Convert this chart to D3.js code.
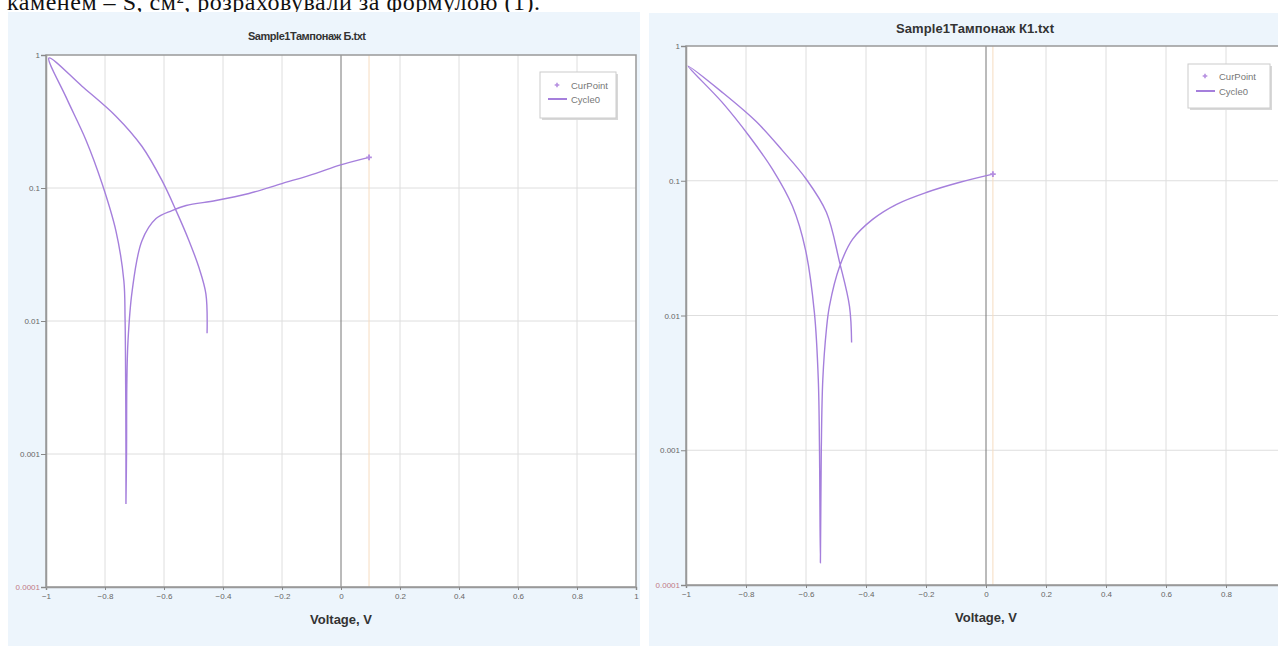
<!DOCTYPE html>
<html>
<head>
<meta charset="utf-8">
<script src="https://cdn.jsdelivr.net/npm/d3@7"></script>
<style>
  body { margin: 0; background: #fff; }
  svg { display: block; overflow: hidden; }
  .tick text { font-family: "Liberation Sans Narrow", "Liberation Sans", Arial, sans-serif; font-size: 8px; fill: #666; }
</style>
</head>
<body>
<svg id="chart" width="1278" height="646"></svg>
<script>
// tick values / labels shared by both charts
var xTicks = [-1, -0.8, -0.6, -0.4, -0.2, 0, 0.2, 0.4, 0.6, 0.8, 1];
var yTicks = [1, 0.1, 0.01, 0.001, 0.0001];
var yTickLabels = ["1", "0.1", "0.01", "0.001", "0.0001"];

// chart "Б": voltage (V) and current, in sweep order
var voltsB = [-0.454, -0.458, -0.481, -0.515, -0.559, -0.607, -0.675, -0.763, -0.878, -0.99,
  -0.932, -0.864, -0.810, -0.763, -0.736, -0.732, -0.730, -0.729, -0.729,
  -0.727, -0.726, -0.722, -0.708, -0.675, -0.627, -0.573, -0.525, -0.424, -0.312, -0.2, -0.085, -0.007, 0.095];
var currentB = [0.0081, 0.016, 0.025, 0.040, 0.0676, 0.114, 0.206, 0.347, 0.583, 0.95,
  0.482, 0.228, 0.108, 0.0476, 0.020, 0.0105, 0.00335, 0.00104, 0.00042,
  0.00104, 0.0033, 0.0071, 0.0168, 0.040, 0.0589, 0.0676, 0.0738, 0.0805, 0.091, 0.108, 0.129, 0.148, 0.17];

// chart "К1"
var voltsK1 = [-0.448, -0.455, -0.488, -0.532, -0.599, -0.679, -0.766, -0.880, -0.993,
  -0.880, -0.789, -0.712, -0.645, -0.602, -0.572, -0.559, -0.555, -0.552,
  -0.549, -0.544, -0.532, -0.522, -0.488, -0.445, -0.378, -0.298, -0.197, -0.087, 0.023];
var currentK1 = [0.0063, 0.0117, 0.0248, 0.0583, 0.1026, 0.168, 0.275, 0.455, 0.71,
  0.383, 0.214, 0.122, 0.0646, 0.031, 0.0105, 0.00334, 0.00101, 0.000146,
  0.00101, 0.00334, 0.00787, 0.0117, 0.0231, 0.0367, 0.0517, 0.0669, 0.0822, 0.0975, 0.112];

var svg = d3.select("#chart");
var lineColor = "#a57fdc";
var narrow = "'Liberation Sans Narrow', 'Liberation Sans', Arial, sans-serif";

// cut-off line of document text above the charts
svg.append("text")
  .attr("x", 7).attr("y", 10)
  .attr("textLength", 533)
  .style("font-family", "'Liberation Serif', 'Times New Roman', serif")
  .style("font-size", "24px")
  .style("fill", "#111")
  .text("каменем – S, см², розраховували за формулою (1).");

function drawChart(cfg, volts, current) {
  var data = volts.map(function(v, i) { return { v: v, i: current[i] }; });

  // panel background
  svg.append("rect")
    .attr("x", cfg.panel[0]).attr("y", cfg.panel[1])
    .attr("width", cfg.panel[2]).attr("height", cfg.panel[3])
    .attr("fill", "#edf5fc");

  var x = d3.scaleLinear().domain([-1, 1]).range([cfg.left, cfg.right]);
  var y = d3.scaleLog().domain([0.0001, 1]).range([cfg.bottom, cfg.top]);

  svg.append("rect")
    .attr("x", cfg.left).attr("y", cfg.top)
    .attr("width", cfg.right - cfg.left).attr("height", cfg.bottom - cfg.top)
    .attr("fill", "#fff");

  var g = svg.append("g");

  // grid
  g.selectAll(".vgrid")
    .data(xTicks.filter(function(d) { return d !== 0 && d !== -1 && d !== 1; }))
    .enter().append("line")
    .attr("x1", function(d) { return x(d); }).attr("x2", function(d) { return x(d); })
    .attr("y1", cfg.top).attr("y2", cfg.bottom)
    .attr("stroke", "#dedede");
  g.selectAll(".hgrid")
    .data(yTicks.slice(1, 4))
    .enter().append("line")
    .attr("x1", cfg.left).attr("x2", cfg.right)
    .attr("y1", function(d) { return y(d); }).attr("y2", function(d) { return y(d); })
    .attr("stroke", "#dedede");

  // current point marker line and zero line
  var last = data[data.length - 1];
  g.append("line")
    .attr("x1", x(last.v)).attr("x2", x(last.v))
    .attr("y1", cfg.top).attr("y2", cfg.bottom)
    .attr("stroke", "#f6dcc0");
  g.append("line")
    .attr("x1", x(0)).attr("x2", x(0))
    .attr("y1", cfg.top).attr("y2", cfg.bottom)
    .attr("stroke", "#777");

  // frame
  g.append("rect")
    .attr("x", cfg.left).attr("y", cfg.top)
    .attr("width", cfg.right - cfg.left).attr("height", cfg.bottom - cfg.top)
    .attr("fill", "none").attr("stroke", "#999").attr("stroke-width", 1.5);

  // axes (only ticks that fall inside the picture)
  var xAxis = g.append("g")
    .attr("transform", "translate(0," + cfg.bottom + ")")
    .call(d3.axisBottom(x)
      .tickValues(xTicks.filter(function(d) { return x(d) < 1276; }))
      .tickSize(3).tickPadding(3)
      .tickFormat(function(d) { return d3.format("")(d); }));
  var yAxis = g.append("g")
    .attr("transform", "translate(" + cfg.left + ",0)")
    .call(d3.axisLeft(y).tickValues(yTicks).tickSize(5).tickPadding(1)
      .tickFormat(function(d, i) { return yTickLabels[i]; }));
  [xAxis, yAxis].forEach(function(a) {
    a.select(".domain").attr("stroke", "#999").attr("stroke-width", 1.5);
    a.selectAll(".tick line").attr("stroke", "#888");
  });
  yAxis.selectAll(".tick text")
    .style("fill", function(d) { return d === 0.0001 ? "#c07a86" : "#666"; });

  // curve
  var line = d3.line()
    .x(function(d) { return x(d.v); })
    .y(function(d) { return y(d.i); })
    .curve(d3.curveCatmullRom.alpha(0.5));
  g.append("path")
    .datum(data)
    .attr("d", line)
    .attr("fill", "none")
    .attr("stroke", lineColor)
    .attr("stroke-width", 1.4);

  // CurPoint "+"
  g.append("path")
    .attr("d", d3.symbol().type(d3.symbolCross).size(18)())
    .attr("transform", "translate(" + x(last.v) + "," + y(last.i) + ")")
    .attr("fill", "#b58ee0");

  // title and axis title
  svg.append("text")
    .attr("x", cfg.titleX).attr("y", cfg.titleY)
    .attr("text-anchor", "middle")
    .attr("textLength", cfg.titleLen)
    .style("font-family", narrow)
    .style("font-size", cfg.titleSize).style("font-weight", "bold").style("fill", "#333")
    .text(cfg.title);
  svg.append("text")
    .attr("x", x(0)).attr("y", cfg.bottom + 37)
    .attr("text-anchor", "middle")
    .style("font-family", narrow)
    .style("font-size", "13px").style("font-weight", "bold").style("fill", "#333")
    .text("Voltage, V");

  // legend
  var lg = svg.append("g").attr("transform", "translate(" + cfg.legend[0] + "," + cfg.legend[1] + ")");
  lg.append("rect").attr("x", 2).attr("y", 2).attr("width", cfg.legend[2]).attr("height", cfg.legend[3])
    .attr("fill", "#d8d8d8");
  lg.append("rect").attr("width", cfg.legend[2]).attr("height", cfg.legend[3])
    .attr("fill", "#fff").attr("stroke", "#ccc");
  lg.append("path")
    .attr("d", d3.symbol().type(d3.symbolCross).size(12)())
    .attr("transform", "translate(17," + cfg.legendRow[0] + ")")
    .attr("fill", "#b58ee0");
  lg.append("line")
    .attr("x1", 8).attr("x2", 27)
    .attr("y1", cfg.legendRow[1]).attr("y2", cfg.legendRow[1])
    .attr("stroke", lineColor).attr("stroke-width", 2);
  ["CurPoint", "Cycle0"].forEach(function(t, i) {
    lg.append("text")
      .attr("x", 31).attr("y", cfg.legendRow[i] + 3.5)
      .style("font-family", narrow)
      .style("font-size", "9.5px").style("fill", "#777")
      .text(t);
  });
}

drawChart({
  panel: [8, 12, 632, 640],
  left: 46, right: 636, top: 55, bottom: 587,
  title: "Sample1Тампонаж Б.txt", titleX: 307, titleY: 40, titleLen: 118, titleSize: "11px",
  legend: [540, 72, 76, 46], legendRow: [13, 27]
}, voltsB, currentB);

drawChart({
  panel: [649, 13, 640, 640],
  left: 686, right: 1286, top: 46, bottom: 585,
  title: "Sample1Тампонаж К1.txt", titleX: 975, titleY: 33, titleLen: 158, titleSize: "13px",
  legend: [1188, 64, 82, 44], legendRow: [12, 27]
}, voltsK1, currentK1);
</script>
</body>
</html>
